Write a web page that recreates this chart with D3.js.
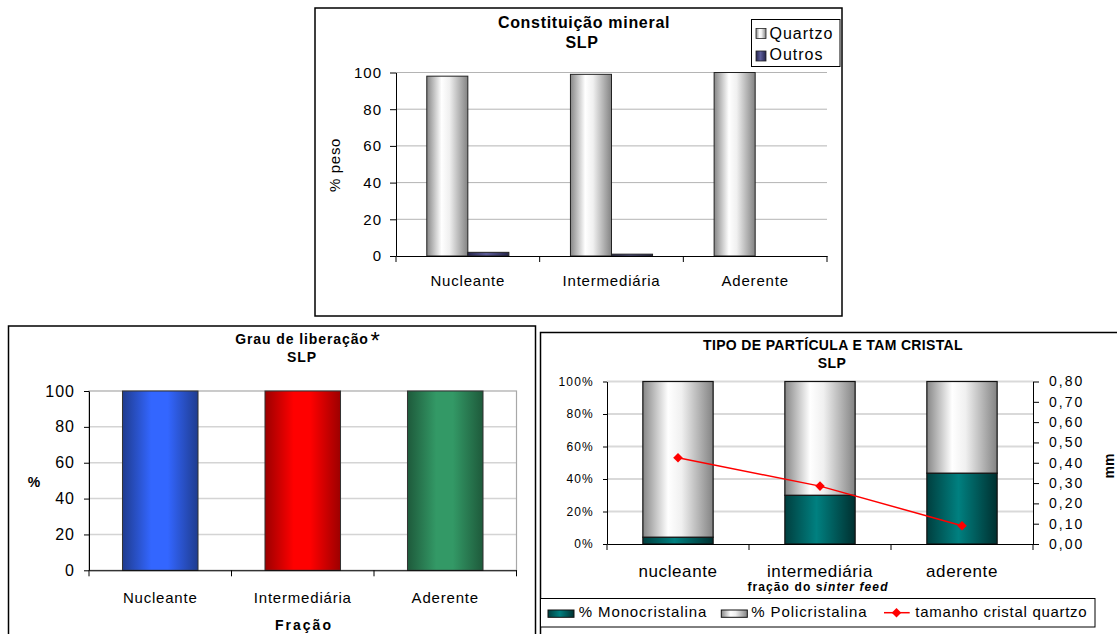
<!DOCTYPE html>
<html>
<head>
<meta charset="utf-8">
<script src="https://cdn.jsdelivr.net/npm/d3@7"></script>
<style>
  body { margin: 0; background: #fff; }
  svg text { font-family: "Liberation Sans", Arial, sans-serif; fill: #000; }
</style>
</head>
<body>
<svg id="chart" width="1117" height="634"></svg>
<script>
// ---- Constituição mineral ----
const fracoes = ["Nucleante", "Intermediária", "Aderente"];
const mineralSeries = ["Quartzo", "Outros"];
const quartzo = [98, 99, 100];
const outros = [2, 1, 0];
const pesoTicks = [0, 20, 40, 60, 80, 100];

// ---- Grau de liberação ----
const liberacao = [100, 100, 100];
const liberacaoTicks = [0, 20, 40, 60, 80, 100];

// ---- Tipo de partícula e tamanho de cristal ----
const fracoesSinter = ["nucleante", "intermediária", "aderente"];
const monocristalina = [4.2, 30, 43.6];
const policristalina = [95.8, 70, 56.4];
const tamanhoCristal = [0.425, 0.285, 0.09];
const pctTicks = [0, 20, 40, 60, 80, 100];
const mmTicks = [0, 0.1, 0.2, 0.3, 0.4, 0.5, 0.6, 0.7, 0.8];

const svg = d3.select("#chart");
svg.append("rect").attr("width", 1117).attr("height", 634).attr("fill", "#fff");

const ptBR = d3.formatLocale({ decimal: ",", thousands: ".", grouping: [3], currency: ["R$", ""] });
const fmtMM = ptBR.format(".2f");

// cylinder-style horizontal gradients
const defs = svg.append("defs");
function hGrad(id, stops) {
  const g = defs.append("linearGradient").attr("id", id)
    .attr("x1", 0).attr("x2", 1).attr("y1", 0).attr("y2", 0);
  stops.forEach(([o, c]) => g.append("stop").attr("offset", o).attr("stop-color", c));
}
hGrad("gGray",  [[0, "#878787"], [0.36, "#ffffff"], [0.55, "#f0f0f0"], [1, "#838383"]]);
hGrad("gNavy",  [[0, "#26264d"], [0.45, "#5c5c99"], [1, "#24244a"]]);
hGrad("gBlue",  [[0, "#1f3c8f"], [0.38, "#3366ff"], [0.6, "#3366ff"], [1, "#1f3c8f"]]);
hGrad("gRed",   [[0, "#9c0000"], [0.38, "#ff0000"], [0.6, "#ff0000"], [1, "#9c0000"]]);
hGrad("gGreen", [[0, "#1e5a3b"], [0.38, "#339966"], [0.6, "#339966"], [1, "#1e5a3b"]]);
hGrad("gTeal",  [[0, "#003f3f"], [0.45, "#008080"], [1, "#003030"]]);

function styleAxis(g, size, spacing) {
  g.select(".domain").attr("stroke", "#000");
  g.selectAll(".tick line").attr("stroke", "#000");
  g.selectAll(".tick text")
    .attr("font-size", size).attr("letter-spacing", spacing)
    .attr("fill", "#000").style("font-family", '"Liberation Sans", Arial, sans-serif');
}

function boundaryTicks(g, xs, y, len) {
  g.append("g").selectAll("line").data(xs).join("line")
    .attr("x1", d => d).attr("x2", d => d)
    .attr("y1", y).attr("y2", y + len)
    .attr("stroke", "#000");
}

// =================== Constituição mineral ===================
(function () {
  const g = svg.append("g");
  g.append("rect").attr("x", 315).attr("y", 8).attr("width", 527).attr("height", 308)
    .attr("fill", "#fff").attr("stroke", "#000").attr("stroke-width", 1.5);

  const x0 = d3.scaleBand().domain(fracoes).range([396, 827]);
  const x1 = d3.scaleBand().domain(mineralSeries).range([0, x0.bandwidth()])
    .paddingInner(0).paddingOuter(0.75);
  const y = d3.scaleLinear().domain([0, 100]).range([256, 72.5]);
  const [xa, xb] = x0.range();

  g.append("g").selectAll("line").data(pesoTicks.filter(d => d > 0)).join("line")
    .attr("x1", xa).attr("x2", xb)
    .attr("y1", d => y(d)).attr("y2", d => y(d))
    .attr("stroke", "#b4b4b4");

  const rows = fracoes.map((f, i) => ({ fracao: f, Quartzo: quartzo[i], Outros: outros[i] }));
  const fills = { Quartzo: "url(#gGray)", Outros: "url(#gNavy)" };
  g.append("g").selectAll("g").data(rows).join("g")
    .attr("transform", d => `translate(${x0(d.fracao)},0)`)
    .selectAll("rect")
    .data(d => mineralSeries.map(k => ({ key: k, value: d[k] })).filter(d => d.value > 0))
    .join("rect")
    .attr("x", d => x1(d.key)).attr("width", x1.bandwidth())
    .attr("y", d => y(d.value)).attr("height", d => y(0) - y(d.value))
    .attr("fill", d => fills[d.key]).attr("stroke", "#222").attr("stroke-width", 1);

  g.append("g").attr("transform", `translate(${xa},0)`)
    .call(d3.axisLeft(y).tickValues(pesoTicks).tickSize(6).tickSizeOuter(0).tickPadding(8))
    .call(styleAxis, 15, 1);

  const xAxis = g.append("g").attr("transform", `translate(0,${y(0)})`)
    .call(d3.axisBottom(x0).tickSize(0).tickSizeOuter(0));
  styleAxis(xAxis, 15, 0.8);
  xAxis.selectAll(".tick text").attr("y", 30).attr("dy", 0);
  boundaryTicks(g, fracoes.map(f => x0(f)).concat([xb]), y(0), 6);

  g.append("text").attr("transform", `translate(340,165) rotate(-90)`)
    .attr("text-anchor", "middle").attr("font-size", 15).attr("letter-spacing", 0.7)
    .text("% peso");

  g.append("text").attr("x", 584).attr("y", 28).attr("text-anchor", "middle")
    .attr("font-size", 16).attr("font-weight", "bold").attr("letter-spacing", 0.7)
    .text("Constituição mineral");
  g.append("text").attr("x", 582).attr("y", 47.5).attr("text-anchor", "middle")
    .attr("font-size", 16).attr("font-weight", "bold").attr("letter-spacing", 0.7)
    .text("SLP");

  const lg = g.append("g");
  lg.append("rect").attr("x", 751.5).attr("y", 19.5).attr("width", 88.5).attr("height", 47)
    .attr("fill", "#fff").attr("stroke", "#000");
  mineralSeries.forEach((k, i) => {
    lg.append("rect").attr("x", 756).attr("y", 28.5 + i * 22.5).attr("width", 10).attr("height", 10)
      .attr("fill", fills[k]).attr("stroke", "#222").attr("stroke-width", 0.8);
    lg.append("text").attr("x", 769.5).attr("y", 38.7 + i * 21.3)
      .attr("font-size", 16).attr("letter-spacing", 1).text(k);
  });
})();

// =================== Grau de liberação ===================
(function () {
  const g = svg.append("g");
  g.append("rect").attr("x", 8.5).attr("y", 326).attr("width", 527).attr("height", 320)
    .attr("fill", "#fff").attr("stroke", "#000").attr("stroke-width", 1.5);

  const x = d3.scaleBand().domain(fracoes).range([89, 516.5]).paddingInner(0.47).paddingOuter(0.235);
  const y = d3.scaleLinear().domain([0, 100]).range([570.3, 391]);
  const [xa, xb] = x.range();

  g.append("g").selectAll("line").data(liberacaoTicks.filter(d => d > 0 && d < 100)).join("line")
    .attr("x1", xa).attr("x2", xb)
    .attr("y1", d => y(d)).attr("y2", d => y(d))
    .attr("stroke", "#d4d4d4").attr("stroke-width", 1.5);
  g.append("rect").attr("x", xa).attr("y", y(100)).attr("width", xb - xa).attr("height", y(0) - y(100))
    .attr("fill", "none").attr("stroke", "#a8a8a8").attr("stroke-width", 1.2);

  const fills = ["url(#gBlue)", "url(#gRed)", "url(#gGreen)"];
  g.append("g").selectAll("rect").data(liberacao).join("rect")
    .attr("x", (d, i) => x(fracoes[i])).attr("width", x.bandwidth())
    .attr("y", d => y(d)).attr("height", d => y(0) - y(d))
    .attr("fill", (d, i) => fills[i]).attr("stroke", "#333").attr("stroke-width", 1);

  g.append("g").attr("transform", `translate(${xa},0)`)
    .call(d3.axisLeft(y).tickValues(liberacaoTicks).tickSize(5).tickSizeOuter(0).tickPadding(9))
    .call(styleAxis, 16, 1);

  const xAxis = g.append("g").attr("transform", `translate(0,${y(0)})`)
    .call(d3.axisBottom(x).tickSize(0).tickSizeOuter(0));
  styleAxis(xAxis, 15, 0.8);
  xAxis.selectAll(".tick text").attr("y", 32.4).attr("dy", 0);
  boundaryTicks(g, [xa, xa + x.step(), xa + 2 * x.step(), xb], y(0), 6);

  g.append("text").attr("x", 34).attr("y", 487).attr("text-anchor", "middle")
    .attr("font-size", 14).attr("font-weight", "bold").text("%");
  g.append("text").attr("x", 304).attr("y", 629.5).attr("text-anchor", "middle")
    .attr("font-size", 14).attr("font-weight", "bold").attr("letter-spacing", 2).text("Fração");

  g.append("text").attr("x", 302).attr("y", 343.8).attr("text-anchor", "middle")
    .attr("font-size", 14).attr("font-weight", "bold").attr("letter-spacing", 0.9)
    .text("Grau de liberação");
  g.append("text").attr("x", 302).attr("y", 362.3).attr("text-anchor", "middle")
    .attr("font-size", 14).attr("font-weight", "bold").attr("letter-spacing", 1).text("SLP");
  // footnote mark next to the title
  g.append("text").attr("x", 370.5).attr("y", 349).attr("text-anchor", "start")
    .attr("font-size", 24).text("*");
})();

// =================== Tipo de partícula e tamanho de cristal ===================
(function () {
  const g = svg.append("g");
  g.append("rect").attr("x", 540.5).attr("y", 332.5).attr("width", 590).attr("height", 320)
    .attr("fill", "#fff").attr("stroke", "#000").attr("stroke-width", 1.5);

  const x = d3.scaleBand().domain(fracoesSinter).range([607, 1033]).paddingInner(0.505).paddingOuter(0.2525);
  const yL = d3.scaleLinear().domain([0, 100]).range([544, 381.5]);
  const yR = d3.scaleLinear().domain([0, 0.8]).range([544, 381.5]);
  const [xa, xb] = x.range();

  g.append("g").selectAll("line").data(pctTicks.filter(d => d > 0)).join("line")
    .attr("x1", xa).attr("x2", xb)
    .attr("y1", d => yL(d)).attr("y2", d => yL(d))
    .attr("stroke", "#d9d9d9").attr("stroke-width", 2);

  const rows = fracoesSinter.map((f, i) => ({ fracao: f, mono: monocristalina[i], poli: policristalina[i] }));
  const stacked = d3.stack().keys(["mono", "poli"])(rows);
  const fills = { mono: "url(#gTeal)", poli: "url(#gGray)" };
  g.append("g").selectAll("g").data(stacked).join("g")
    .attr("fill", d => fills[d.key])
    .selectAll("rect").data(d => d).join("rect")
    .attr("x", d => x(d.data.fracao)).attr("width", x.bandwidth())
    .attr("y", d => yL(d[1])).attr("height", d => yL(d[0]) - yL(d[1]))
    .attr("stroke", "#111").attr("stroke-width", 1.2);

  const line = d3.line()
    .x((d, i) => x(fracoesSinter[i]) + x.bandwidth() / 2)
    .y(d => yR(d));
  g.append("path").datum(tamanhoCristal).attr("d", line)
    .attr("fill", "none").attr("stroke", "#ff0000").attr("stroke-width", 1.5);
  const diamond = d3.symbol(d3.symbolSquare, 46);
  g.append("g").selectAll("path").data(tamanhoCristal).join("path")
    .attr("d", diamond)
    .attr("transform", (d, i) => `translate(${x(fracoesSinter[i]) + x.bandwidth() / 2},${yR(d)}) rotate(45)`)
    .attr("fill", "#ff0000");

  g.append("g").attr("transform", `translate(${xa},0)`)
    .call(d3.axisLeft(yL).tickValues(pctTicks).tickFormat(d => d + "%").tickSize(4).tickSizeOuter(0).tickPadding(9))
    .call(styleAxis, 12, 1.2);
  g.append("g").attr("transform", `translate(${xb},0)`)
    .call(d3.axisRight(yR).tickValues(mmTicks).tickFormat(fmtMM).tickSize(6).tickSizeOuter(0).tickPadding(10))
    .call(styleAxis, 14, 2);

  const xAxis = g.append("g").attr("transform", `translate(0,${yL(0)})`)
    .call(d3.axisBottom(x).tickSize(0).tickSizeOuter(0));
  styleAxis(xAxis, 17, 0.6);
  xAxis.selectAll(".tick text").attr("y", 32.7).attr("dy", 0);
  boundaryTicks(g, [xa, xa + x.step(), xa + 2 * x.step(), xb], yL(0), 6);

  const sub = g.append("text").attr("x", 818).attr("y", 590.7).attr("text-anchor", "middle")
    .attr("font-size", 12).attr("font-weight", "bold").attr("letter-spacing", 1.1);
  sub.append("tspan").text("fração do s");
  sub.append("tspan").attr("font-style", "italic").text("inter feed");

  g.append("text").attr("transform", "translate(1114,466) rotate(-90)")
    .attr("text-anchor", "middle").attr("font-size", 14).attr("font-weight", "bold").text("mm");

  g.append("text").attr("x", 833).attr("y", 350).attr("text-anchor", "middle")
    .attr("font-size", 14).attr("font-weight", "bold").attr("letter-spacing", 0.35)
    .text("TIPO DE PARTÍCULA E TAM CRISTAL");
  g.append("text").attr("x", 832).attr("y", 367.7).attr("text-anchor", "middle")
    .attr("font-size", 14).attr("font-weight", "bold").attr("letter-spacing", 0.35).text("SLP");

  // legend
  const lg = g.append("g");
  lg.append("rect").attr("x", 540.5).attr("y", 598.5).attr("width", 554.5).attr("height", 28.5)
    .attr("fill", "#fff").attr("stroke", "#000");
  lg.append("rect").attr("x", 548).attr("y", 610).attr("width", 26).attr("height", 7.3)
    .attr("fill", fills.mono).attr("stroke", "#111");
  lg.append("text").attr("x", 578.7).attr("y", 617.3).attr("font-size", 15).attr("letter-spacing", 0.9)
    .text("% Monocristalina");
  lg.append("rect").attr("x", 721.3).attr("y", 610).attr("width", 26).attr("height", 7.3)
    .attr("fill", fills.poli).attr("stroke", "#111");
  lg.append("text").attr("x", 751.3).attr("y", 617.3).attr("font-size", 15).attr("letter-spacing", 0.9)
    .text("% Policristalina");
  lg.append("line").attr("x1", 884).attr("x2", 909.7).attr("y1", 612.7).attr("y2", 612.7)
    .attr("stroke", "#ff0000").attr("stroke-width", 1.5);
  lg.append("path").attr("d", diamond).attr("transform", "translate(896.5,612.7) rotate(45)").attr("fill", "#ff0000");
  lg.append("text").attr("x", 915.3).attr("y", 617.3).attr("font-size", 15).attr("letter-spacing", 0.7)
    .text("tamanho cristal quartzo");
})();
</script>
</body>
</html>
